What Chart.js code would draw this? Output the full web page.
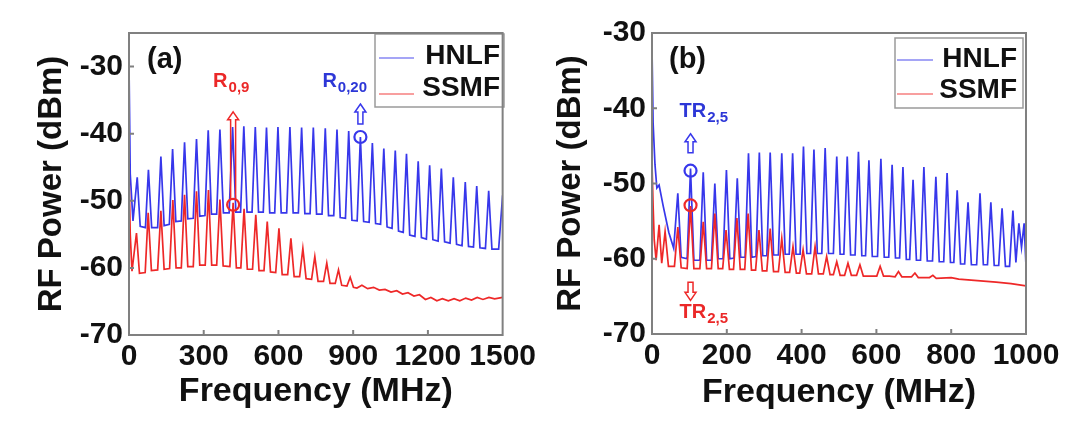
<!DOCTYPE html>
<html>
<head>
<meta charset="utf-8">
<script src="https://cdn.jsdelivr.net/npm/chart.js@4.4.0/dist/chart.umd.min.js"></script>
<style>
  html, body { margin: 0; padding: 0; background: #fff; }
  #wrap { position: relative; width: 1080px; height: 435px; overflow: hidden; }
  canvas { position: absolute; top: 0; }
  #chartA { left: 0; }
  #chartB { left: 540px; }
</style>
</head>
<body>
<div id="wrap">
  <canvas id="chartA" width="540" height="435"></canvas>
  <canvas id="chartB" width="540" height="435"></canvas>
</div>
<script>
// ---- panel (a) : 0-1500 MHz ----
const xTicksA = [0, 300, 600, 900, 1200, 1500];
const yTicksA = [-70, -60, -50, -40, -30];

// HNLF (a): comb peaks, and the two edges of each flat dip between them
const hnlfAPeakMHz = [0, 33, 78, 128, 175, 223, 271, 318, 365, 416, 461, 507, 552, 598, 646, 693, 740, 788, 835, 882, 929, 977, 1023, 1069, 1114, 1161, 1207, 1254, 1302, 1350, 1396, 1444, 1500];
const hnlfAPeakDbm = [-29.5, -46.5, -45.4, -43.4, -42.3, -41.3, -40.8, -39.5, -39.4, -39.0, -38.9, -39.0, -39.1, -39.0, -39.0, -39.1, -39.1, -39.2, -39.4, -39.6, -40.5, -41.4, -42.2, -42.5, -43.0, -44.1, -44.7, -45.2, -46.5, -47.2, -47.8, -48.5, -49.2];
const hnlfADipMHz = [5, 16, 45, 66, 91, 115, 141, 162, 188, 210, 236, 258, 284, 305, 331, 352, 379, 402, 429, 448, 474, 494, 520, 539, 565, 585, 611, 633, 659, 680, 706, 727, 753, 775, 801, 822, 848, 869, 895, 916, 942, 964, 990, 1010, 1036, 1056, 1082, 1101, 1127, 1148, 1174, 1194, 1220, 1241, 1267, 1289, 1315, 1337, 1363, 1383, 1409, 1431, 1457, 1484];
const hnlfADipDbm = [-46, -53.0, -53.8, -54.0, -54.0, -54.0, -53.7, -53.5, -53.1, -53.0, -52.7, -52.6, -52.3, -52.2, -52.0, -52.0, -51.8, -51.8, -51.7, -51.7, -51.7, -51.7, -51.7, -51.7, -51.8, -51.8, -51.8, -51.8, -51.8, -51.8, -51.9, -51.9, -52.0, -52.0, -52.2, -52.2, -52.5, -52.6, -52.9, -53.0, -53.1, -53.2, -53.4, -53.5, -53.9, -54.1, -54.5, -54.7, -55.1, -55.3, -55.5, -55.7, -55.8, -56.0, -56.1, -56.3, -56.5, -56.7, -56.8, -56.9, -57.0, -57.1, -57.2, -57.2];

// SSMF (a)
const ssmfAPeakMHz = [0, 30, 77, 128, 176, 223, 271, 319, 365, 418, 462, 509, 555, 602, 650, 698, 746, 794, 841, 888];
const ssmfAPeakDbm = [-45.5, -54.8, -51.8, -51.5, -49.9, -49.1, -48.6, -48.4, -49.8, -50.3, -51.2, -52.1, -53.1, -54.1, -55.6, -57.1, -58.3, -59.3, -60.3, -61.4];
const ssmfADipMHz = [5, 12, 42, 65, 90, 115, 141, 163, 189, 210, 236, 258, 284, 306, 332, 352, 378, 405, 431, 449, 475, 496, 522, 542, 568, 589, 615, 637, 663, 685, 711, 733, 759, 781, 807, 828, 854, 875, 901, 915, 935, 958, 982, 1005, 1028, 1052, 1075, 1098, 1120, 1144, 1166, 1190, 1212, 1236, 1258, 1282, 1305, 1328, 1352, 1375, 1398, 1421, 1445, 1468, 1500];
const ssmfADipDbm = [-55, -60.5, -60.8, -60.7, -60.4, -60.3, -60.2, -60.1, -60.0, -60.0, -59.8, -59.8, -59.6, -59.6, -59.6, -59.6, -59.7, -59.8, -60.0, -60.0, -60.2, -60.2, -60.4, -60.4, -60.6, -60.7, -61.0, -61.0, -61.3, -61.3, -61.6, -61.7, -62.0, -62.0, -62.3, -62.3, -62.6, -62.7, -62.9, -63.0, -62.6, -63.1, -62.9, -63.3, -63.2, -63.6, -63.4, -63.9, -63.7, -64.2, -64.0, -64.7, -64.4, -64.9, -64.6, -64.9, -64.6, -64.9, -64.5, -64.8, -64.4, -64.7, -64.4, -64.6, -64.4];

// marked resonances (a): R0,9 on SSMF, R0,20 on HNLF
const markAMHz = [418, 929];
const markADbm = [-50.6, -40.5];
const markALabel = ['R', 'R'];
const markASub = ['0,9', '0,20'];

// ---- panel (b) : 0-1000 MHz ----
const xTicksB = [0, 200, 400, 600, 800, 1000];
const yTicksB = [-70, -60, -50, -40, -30];

const hnlfBPeakMHz = [0, 69, 103, 137, 168, 199, 228, 258, 287, 316, 347, 376, 405, 433, 463, 494, 522, 552, 580, 612, 642, 671, 698, 727, 759, 789, 816, 845, 877, 906, 936, 965, 981, 995];
const hnlfBPeakDbm = [-32, -51.3, -48.0, -48.5, -50.0, -48.2, -49.3, -46.0, -45.9, -45.9, -46.0, -46.0, -45.1, -45.5, -45.3, -46.4, -46.4, -45.8, -46.9, -46.7, -47.5, -47.8, -49.5, -47.8, -49.1, -48.6, -50.9, -52.5, -51.3, -52.5, -53.3, -53.6, -55.3, -55.3];
const hnlfBDipMHz = [3, 8, 13, 19, 30, 45, 58, 78, 94, 112, 128, 146, 159, 177, 190, 208, 219, 237, 249, 267, 278, 296, 307, 325, 338, 356, 367, 385, 396, 414, 424, 442, 454, 472, 485, 503, 513, 531, 543, 561, 571, 589, 603, 621, 633, 651, 662, 680, 689, 707, 718, 736, 750, 768, 780, 798, 807, 825, 836, 854, 868, 886, 897, 915, 927, 945, 956, 973, 988, 1000];
const hnlfBDipDbm = [-42, -47.5, -50.6, -50.2, -53, -56.5, -58.6, -59.8, -60.0, -60.2, -60.2, -60.2, -60.2, -60.0, -60.0, -60.0, -59.9, -59.8, -59.8, -59.8, -59.7, -59.6, -59.6, -59.5, -59.5, -59.4, -59.4, -59.4, -59.4, -59.3, -59.3, -59.3, -59.3, -59.3, -59.3, -59.4, -59.4, -59.5, -59.5, -59.6, -59.6, -59.7, -59.7, -59.8, -59.8, -59.9, -59.9, -60.1, -60.1, -60.2, -60.2, -60.3, -60.3, -60.4, -60.4, -60.5, -60.5, -60.7, -60.7, -60.8, -60.8, -60.8, -60.8, -60.9, -60.9, -61.0, -61.0, -60.5, -58.5, -61.0];

const ssmfBPeakMHz = [0, 19, 35, 69, 103, 137, 168, 198, 227, 257, 286, 316, 347, 377, 404, 436, 467, 494, 524, 556, 610, 659, 703, 751];
const ssmfBPeakDbm = [-47.3, -55.5, -56.4, -55.8, -53.0, -55.1, -54.0, -56.2, -54.6, -54.0, -56.2, -56.0, -57.3, -58.4, -58.8, -58.4, -59.7, -60.4, -60.6, -60.8, -61.0, -61.7, -61.9, -62.2];
const ssmfBDipMHz = [3, 6, 11, 26, 44, 60, 78, 94, 112, 128, 146, 159, 177, 189, 207, 218, 236, 248, 266, 277, 295, 307, 325, 338, 356, 368, 386, 395, 413, 427, 445, 458, 476, 485, 503, 515, 533, 547, 565, 585, 601, 619, 635, 650, 668, 694, 712, 727, 742, 760, 800, 820, 870, 920, 960, 1000];
const ssmfBDipDbm = [-53, -57.5, -60.2, -60.6, -61.0, -61.0, -61.2, -61.3, -61.3, -61.3, -61.3, -61.3, -61.3, -61.3, -61.4, -61.4, -61.4, -61.4, -61.5, -61.5, -61.6, -61.6, -61.7, -61.7, -61.8, -61.8, -61.9, -61.9, -62.0, -62.0, -62.0, -62.0, -62.1, -62.1, -62.2, -62.2, -62.2, -62.2, -62.3, -62.3, -62.3, -62.3, -62.3, -62.4, -62.4, -62.4, -62.5, -62.5, -62.5, -62.6, -62.5, -62.7, -62.9, -63.1, -63.3, -63.6];

// marked resonances (b): TR2,5 on both fibres
const markBMHz = [103, 103];
const markBDbm = [-48.3, -52.9];
const markBLabel = ['TR', 'TR'];
const markBSub = ['2,5', '2,5'];

const FONT = '"Liberation Sans", Arial, Helvetica, sans-serif';
const BLUE = 'rgb(55,55,235)';
const RED = 'rgb(238,40,40)';
const TXT_BLUE = 'rgb(45,55,215)';
const TXT_RED = 'rgb(235,40,40)';

// merge peaks and dips into one trace, ordered by frequency
function trace(peakMHz, peakDbm, dipMHz, dipDbm) {
  const pts = [];
  peakMHz.forEach((f, i) => pts.push({ x: f, y: peakDbm[i] }));
  dipMHz.forEach((f, i) => pts.push({ x: f, y: dipDbm[i] }));
  return pts.sort((a, b) => a.x - b.x);
}

// grey box round the plot, with short inward ticks
const framePlugin = {
  id: 'frame',
  afterDraw(chart) {
    const { ctx, chartArea: a, scales } = chart;
    ctx.save();
    ctx.strokeStyle = '#808080';
    ctx.lineWidth = 2;
    ctx.strokeRect(a.left, a.top, a.right - a.left, a.bottom - a.top);
    ctx.beginPath();
    scales.x.ticks.forEach(t => {
      const px = scales.x.getPixelForValue(t.value);
      if (px > a.left + 2 && px < a.right - 2) { ctx.moveTo(px, a.bottom); ctx.lineTo(px, a.bottom - 5); }
    });
    scales.y.ticks.forEach(t => {
      const py = scales.y.getPixelForValue(t.value);
      if (py > a.top + 2 && py < a.bottom - 2) { ctx.moveTo(a.left, py); ctx.lineTo(a.left + 5, py); }
    });
    ctx.stroke();
    ctx.restore();
  }
};

// boxed legend in the top right corner
const boxLegend = {
  id: 'boxLegend',
  afterDatasetsDraw(chart, args, o) {
    const ctx = chart.ctx;
    ctx.save();
    ctx.fillStyle = '#fff';
    ctx.fillRect(o.left, o.top, o.right - o.left, o.bottom - o.top);
    ctx.strokeStyle = '#9a9a9a';
    ctx.lineWidth = 1.5;
    ctx.strokeRect(o.left, o.top, o.right - o.left, o.bottom - o.top);
    chart.data.datasets.forEach((ds, i) => {
      ctx.strokeStyle = ds.borderColor;
      ctx.globalAlpha = 0.6;
      ctx.lineWidth = 1.6;
      ctx.beginPath();
      ctx.moveTo(o.lineX[0], o.lineY[i]);
      ctx.lineTo(o.lineX[1], o.lineY[i]);
      ctx.stroke();
      ctx.globalAlpha = 1;
      ctx.fillStyle = '#111';
      ctx.font = 'bold 28px ' + FONT;
      ctx.textAlign = 'right';
      ctx.textBaseline = 'middle';
      ctx.fillText(ds.label, o.textRight, o.rows[i]);
    });
    ctx.restore();
  }
};

function hollowArrow(ctx, x, yTip, yBase, color) {
  const dir = yBase > yTip ? 1 : -1;
  const head = 8 * dir, hw = 5.5, sw = 2.5;
  ctx.beginPath();
  ctx.moveTo(x, yTip);
  ctx.lineTo(x + hw, yTip + head);
  ctx.lineTo(x + sw, yTip + head);
  ctx.lineTo(x + sw, yBase);
  ctx.lineTo(x - sw, yBase);
  ctx.lineTo(x - sw, yTip + head);
  ctx.lineTo(x - hw, yTip + head);
  ctx.closePath();
  ctx.strokeStyle = color;
  ctx.lineWidth = 1.5;
  ctx.stroke();
}

// circles, arrows and labels on the marked resonances, plus the panel tag
const markerPlugin = {
  id: 'markers',
  afterDatasetsDraw(chart, args, o) {
    const { ctx, scales } = chart;
    ctx.save();
    o.items.forEach(m => {
      const cx = scales.x.getPixelForValue(m.mhz);
      const cy = scales.y.getPixelForValue(m.dbm);
      ctx.strokeStyle = m.color;
      ctx.lineWidth = 2.2;
      ctx.beginPath();
      ctx.ellipse(cx, cy, 6, 6, 0, 0, Math.PI * 2);
      ctx.stroke();
      hollowArrow(ctx, cx, cy + m.arrow[0], cy + m.arrow[1], m.color);
      ctx.fillStyle = m.textColor;
      ctx.textAlign = 'left';
      ctx.textBaseline = 'alphabetic';
      ctx.font = 'bold 20px ' + FONT;
      const tx = cx + m.text[0], ty = cy + m.text[1];
      ctx.fillText(m.label, tx, ty);
      const w = ctx.measureText(m.label).width;
      ctx.font = 'bold 15px ' + FONT;
      ctx.fillText(m.sub, tx + w + 1, ty + 5);
    });
    ctx.fillStyle = '#111';
    ctx.font = 'bold 29px ' + FONT;
    ctx.textAlign = 'left';
    ctx.textBaseline = 'middle';
    ctx.fillText(o.tag, o.tagX, o.tagY);
    ctx.restore();
  }
};

function buildChart(id, o) {
  return new Chart(document.getElementById(id), {
    type: 'line',
    data: {
      datasets: [
        { label: 'HNLF', data: o.hnlf, borderColor: BLUE, borderWidth: 1.7, pointRadius: 0, tension: 0, order: 1 },
        { label: 'SSMF', data: o.ssmf, borderColor: RED, borderWidth: 1.7, pointRadius: 0, tension: 0, order: 0 }
      ]
    },
    options: {
      responsive: false,
      animation: false,
      devicePixelRatio: 1,
      layout: { padding: o.padding },
      plugins: {
        legend: { display: false },
        tooltip: { enabled: false },
        boxLegend: o.legend,
        markers: o.markers
      },
      scales: {
        x: {
          type: 'linear',
          min: o.xTicks[0],
          max: o.xTicks[o.xTicks.length - 1],
          afterBuildTicks: ax => { ax.ticks = o.xTicks.map(v => ({ value: v })); },
          afterFit: ax => { ax.height = o.xAxisHeight; },
          grid: { display: false, drawTicks: false },
          border: { display: false },
          ticks: { color: '#111', padding: 4, autoSkip: false, maxRotation: 0, callback: v => String(v), font: { family: FONT, size: 30, weight: 'bold' } },
          title: { display: true, text: 'Frequency (MHz)', color: '#111', padding: 0, font: { family: FONT, size: 34, weight: 'bold' } }
        },
        y: {
          type: 'linear',
          min: -70,
          max: o.yMax,
          afterBuildTicks: ax => { ax.ticks = o.yTicks.map(v => ({ value: v })); },
          afterFit: ax => { ax.width = o.yAxisWidth; },
          grid: { display: false, drawTicks: false },
          border: { display: false },
          ticks: { color: '#111', padding: 6, callback: v => String(v), font: { family: FONT, size: 30, weight: 'bold' } },
          title: { display: true, text: 'RF Power (dBm)', color: '#111', padding: 0, font: { family: FONT, size: 33, weight: 'bold' } }
        }
      }
    },
    plugins: [framePlugin, boxLegend, markerPlugin]
  });
}

buildChart('chartA', {
  hnlf: trace(hnlfAPeakMHz, hnlfAPeakDbm, hnlfADipMHz, hnlfADipDbm),
  ssmf: trace(ssmfAPeakMHz, ssmfAPeakDbm, ssmfADipMHz, ssmfADipDbm),
  xTicks: xTicksA, yTicks: yTicksA, yMax: -25,
  padding: { left: 32, top: 33, right: 35, bottom: 22.6 },
  yAxisWidth: 97, xAxisHeight: 77.4,
  legend: { left: 375, top: 34, right: 504, bottom: 107, lineX: [379, 414], lineY: [58, 94], rows: [56, 88], textRight: 500 },
  markers: {
    tag: '(a)', tagX: 147, tagY: 60,
    items: [
      { mhz: markAMHz[0], dbm: markADbm[0], label: markALabel[0], sub: markASub[0], color: RED, textColor: TXT_RED, arrow: [-93, -6], text: [-20, -118] },
      { mhz: markAMHz[1], dbm: markADbm[1], label: markALabel[1], sub: markASub[1], color: BLUE, textColor: TXT_BLUE, arrow: [-33, -13], text: [-38, -50] }
    ]
  }
});

buildChart('chartB', {
  hnlf: trace(hnlfBPeakMHz, hnlfBPeakDbm, hnlfBDipMHz, hnlfBDipDbm),
  ssmf: trace(ssmfBPeakMHz, ssmfBPeakDbm, ssmfBDipMHz, ssmfBDipDbm),
  xTicks: xTicksB, yTicks: yTicksB, yMax: -30,
  padding: { left: 11, top: 33, right: 54, bottom: 21.6 },
  yAxisWidth: 101, xAxisHeight: 79.4,
  legend: { left: 355, top: 38, right: 483, bottom: 108, lineX: [357, 393], lineY: [60, 94], rows: [59, 90], textRight: 477 },
  markers: {
    tag: '(b)', tagX: 129, tagY: 60,
    items: [
      { mhz: markBMHz[0], dbm: markBDbm[0], label: markBLabel[0], sub: markBSub[0], color: BLUE, textColor: TXT_BLUE, arrow: [-37, -18], text: [-11, -54] },
      { mhz: markBMHz[1], dbm: markBDbm[1], label: markBLabel[1], sub: markBSub[1], color: RED, textColor: TXT_RED, arrow: [95, 77], text: [-11, 113] }
    ]
  }
});
</script>
</body>
</html>
